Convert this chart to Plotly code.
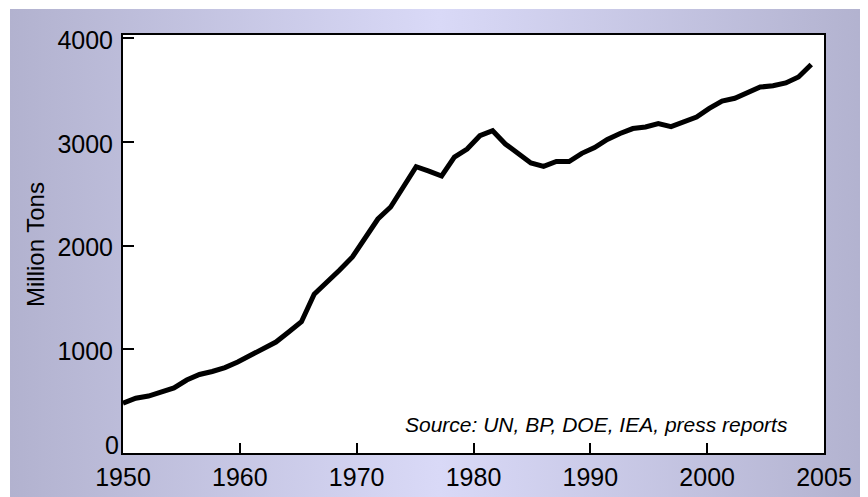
import base64
import numpy as np
import plotly.graph_objects as go

years = list(range(1950, 2005))
production = [480, 528, 549, 588, 627, 703, 757, 786, 824, 878,
              940, 997, 1070, 1167, 1266, 1530, 1642, 1764, 1890, 2072,
              2256, 2372, 2567, 2760, 2718, 2671, 2853, 2931, 3059, 3107,
              2979, 2893, 2796, 2763, 2810, 2810, 2889, 2945, 3023, 3080,
              3128, 3143, 3177, 3147, 3191, 3239, 3322, 3393, 3420, 3480,
              3528, 3541, 3568, 3625, 3746]
x_tick_labels = ["1950", "1960", "1970", "1980", "1990", "2000", "2005"]
y_ticks = [1000, 2000, 3000, 4000]
y_origin_tick = [0]

# page has an 8px body margin, so the figure is sized to fit the 868x497 window
OFF = 8
W, H = 868 - OFF, 497 - OFF
L, R, T, B = 123 - OFF, 44, 35 - OFF, 44
FONT = "Liberation Sans, Arial, Helvetica, sans-serif"
Y_RANGE = [0, 4030]

GX0, GY0 = 10 - OFF, 9 - OFF
gw, gh = W - GX0, H - GY0
svg = (
    f'<svg xmlns="http://www.w3.org/2000/svg" width="{gw}" height="{gh}" preserveAspectRatio="none">'
    '<defs><linearGradient id="g" x1="0" y1="0" x2="1" y2="0">'
    '<stop offset="0" stop-color="#b2b2cf"/>'
    '<stop offset="0.5" stop-color="#d9d9f7"/>'
    '<stop offset="1" stop-color="#b2b2cf"/>'
    '</linearGradient></defs>'
    f'<rect width="{gw}" height="{gh}" fill="url(#g)"/></svg>'
)
src = "data:image/svg+xml;base64," + base64.b64encode(svg.encode()).decode()

pw = W - L - R
ph = H - T - B
def px_x(p):
    return (p - OFF - L) / pw
def px_y(p):
    return (H - B - (p - OFF)) / ph

fig = go.Figure()
fig.add_trace(go.Scatter(x=years, y=production, mode="lines",
                         line=dict(color="black", width=5),
                         hoverinfo="skip", showlegend=False))
# invisible copy on the overlaying axis that carries the "0" label
fig.add_trace(go.Scatter(x=years, y=production, mode="lines", yaxis="y2",
                         line=dict(color="rgba(0,0,0,0)", width=0),
                         hoverinfo="skip", showlegend=False))

common_y = dict(range=Y_RANGE, automargin=False, showgrid=False, zeroline=False,
                tickfont=dict(size=25), ticklabelstandoff=3)

fig.update_layout(
    width=W, height=H,
    margin=dict(l=L, r=R, t=T, b=B, pad=0, autoexpand=False),
    showlegend=False,
    paper_bgcolor="white",
    plot_bgcolor="white",
    font=dict(family=FONT, color="black", size=24),
    images=[dict(source=src, xref="paper", yref="paper",
                 x=(GX0 - L) / pw, y=1 + (T - GY0) / ph,
                 sizex=gw / pw, sizey=gh / ph,
                 xanchor="left", yanchor="top", sizing="stretch", layer="below")],
    shapes=[dict(type="rect", xref="paper", yref="paper", x0=0, x1=1, y0=0, y1=1,
                 fillcolor="white", line=dict(width=0), layer="below")],
    xaxis=dict(range=[1950, 2005], automargin=False,
               tickvals=list(np.linspace(1950, 2005, len(x_tick_labels))),
               ticktext=x_tick_labels,
               ticks="inside", ticklen=10, tickwidth=2, tickcolor="black",
               showline=True, linewidth=2, linecolor="black", mirror=True,
               showgrid=False, zeroline=False,
               ticklabelstandoff=1,
               tickfont=dict(size=25)),
    yaxis=dict(tickvals=y_ticks, ticklabelshift=2,
               ticks="inside", ticklen=11, tickwidth=2, tickcolor="black",
               showline=True, linewidth=2, linecolor="black", mirror=True,
               **common_y),
    yaxis2=dict(tickvals=y_origin_tick, overlaying="y", side="left",
                ticks="", showline=False, ticklabelshift=-8, **common_y),
    annotations=[
        dict(text="Million Tons", textangle=-90, xref="paper", yref="paper",
             x=px_x(35), y=px_y(245), xanchor="center", yanchor="middle",
             showarrow=False, font=dict(size=24)),
        dict(text="<i>Source: UN, BP, DOE, IEA, press reports</i>",
             xref="paper", yref="paper", x=px_x(790), y=px_y(424),
             xanchor="right", yanchor="middle", showarrow=False,
             font=dict(size=21)),
    ],
)

fig.write_html("out.html")
